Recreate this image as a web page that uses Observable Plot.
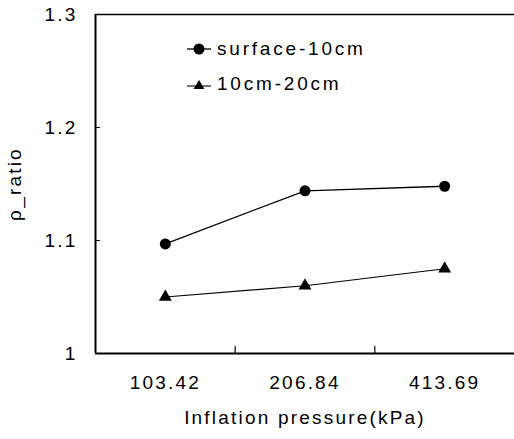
<!DOCTYPE html>
<html><head><meta charset="utf-8">
<script src="https://cdn.jsdelivr.net/npm/d3@7"></script>
<script src="https://cdn.jsdelivr.net/npm/@observablehq/plot@0.6"></script>
<style>
body{margin:0;background:#fff;}
#wrap{position:relative;width:514px;height:439px;font-family:"Liberation Sans",Arial,sans-serif;color:#000;}
#legend{position:absolute;left:186px;top:31px;font-size:19px;letter-spacing:2.8px;line-height:35px;}
#legend div{display:flex;align-items:center;white-space:nowrap;}
#legend svg{margin-right:5px;}
</style></head><body><div id="wrap"><div id="legend"></div></div>
<script>
const pressures = ["103.42", "206.84", "413.69"];
const seriesNames = ["surface-10cm", "10cm-20cm"];
const surfaceValues = [1.097, 1.144, 1.148];
const deepValues = [1.050, 1.060, 1.075];
const yTicks = [1, 1.1, 1.2, 1.3];
const xTitle = "Inflation pressure(kPa)";
const yTitle = "ρ_ratio";

const idx = pressures.map((_, i) => i);
const surfaceData = idx.map(i => ({i, v: surfaceValues[i], s: seriesNames[0]}));
const deepData = idx.map(i => ({i, v: deepValues[i], s: seriesNames[1]}));
const separators = idx.slice(1).map(i => i - 0.5);
const tickLine = {draw(ctx, l) { ctx.moveTo(0, 0); ctx.lineTo(0, -l); }};

const chart = Plot.plot({
  width: 514, height: 439,
  marginLeft: 95, marginRight: 0, marginTop: 14, marginBottom: 86,
  style: {fontFamily: '"Liberation Sans", Arial, sans-serif', fontSize: "19px", letterSpacing: "2.2px", color: "#000", background: "#fff"},
  x: {domain: [-0.5, pressures.length - 0.5]},
  y: {domain: [yTicks[0], yTicks[yTicks.length - 1]]},
  marks: [
    Plot.ruleX([-0.5], {strokeWidth: 2}),
    Plot.ruleY([yTicks[0]], {strokeWidth: 2}),
    Plot.ruleY([yTicks[yTicks.length - 1]], {strokeWidth: 1.6}),
    Plot.vector(separators, {x: d => d, y: () => yTicks[0], length: 7, anchor: "start", shape: tickLine, strokeWidth: 1.2}),
    Plot.vector(yTicks.slice(1, -1), {x: () => -0.5, y: d => d, rotate: 90, length: 4, anchor: "start", shape: tickLine, strokeWidth: 1}),
    Plot.axisY({ticks: yTicks, tickSize: 0, tickPadding: 18, tickFormat: d => String(+d.toFixed(1)), fontSize: 19,
      label: yTitle, labelAnchor: "center", labelOffset: 88, labelArrow: "none"}),
    Plot.axisX({ticks: idx, tickSize: 0, tickPadding: 22, tickFormat: i => pressures[i], fontSize: 19,
      label: xTitle, labelAnchor: "center", labelOffset: 70, labelArrow: "none"}),
    Plot.line(surfaceData, {x: "i", y: "v", stroke: "#000", strokeWidth: 1.3}),
    Plot.line(deepData, {x: "i", y: "v", stroke: "#000", strokeWidth: 1.1}),
    Plot.dot(surfaceData, {x: "i", y: "v", r: 5.5, fill: "#000", symbol: "circle"}),
    Plot.dot(deepData, {x: "i", y: "v", r: 4.8, fill: "#000", symbol: "triangle"})
  ]
});
document.getElementById("wrap").prepend(chart);

const legend = document.getElementById("legend");
const sym = [
  '<svg width="26" height="14"><line x1="1" y1="7" x2="25" y2="7" stroke="#000" stroke-width="1.3"/><circle cx="13" cy="7" r="5.5" fill="#000"/></svg>',
  '<svg width="26" height="14"><line x1="1" y1="9" x2="25" y2="9" stroke="#000" stroke-width="1.1"/><path d="M13,3 L18.5,12 L7.5,12 Z" fill="#000"/></svg>'
];
seriesNames.forEach((n, k) => {
  const row = document.createElement("div");
  row.innerHTML = sym[k] + "<span>" + n + "</span>";
  legend.appendChild(row);
});
</script>
</body></html>
